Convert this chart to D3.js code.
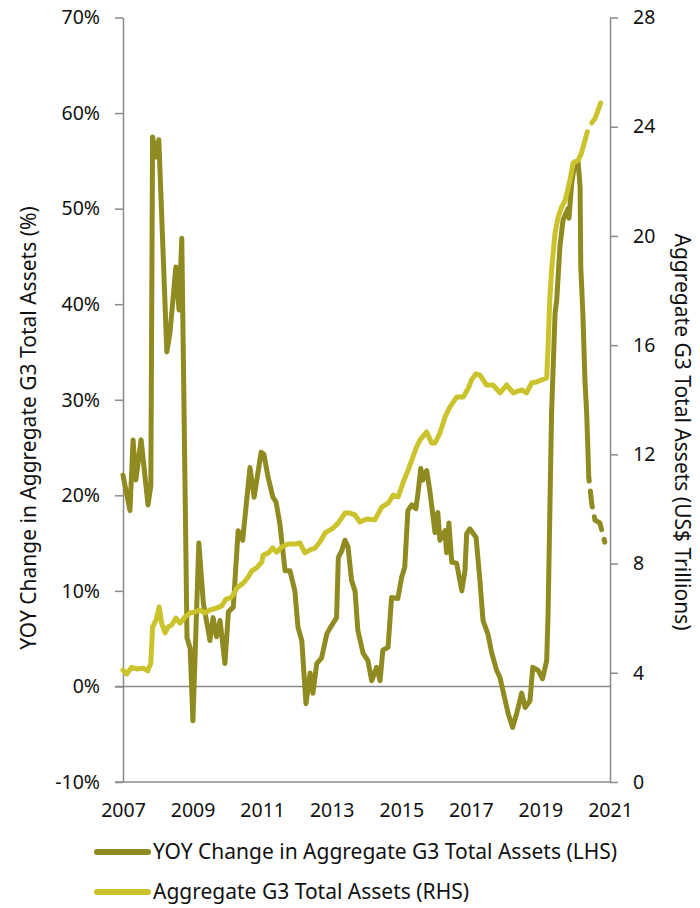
<!DOCTYPE html>
<html>
<head>
<meta charset="utf-8">
<script src="https://cdn.jsdelivr.net/npm/d3@7"></script>
<style>
body { margin: 0; background: #fff; }
text { font-family: "Noto Sans", Lato, sans-serif; fill: #111; }
</style>
</head>
<body>
<script>

var width = 700,
	height = 908;

// x in decimal years, YOY change in %
var yoyYears = [2007.00, 2007.20, 2007.29, 2007.37, 2007.52, 2007.72, 2007.80, 2007.85, 2007.95, 2008.03,
	2008.26, 2008.35, 2008.52, 2008.61, 2008.69, 2008.84, 2008.93, 2009.01, 2009.18, 2009.31,
	2009.50, 2009.59, 2009.69, 2009.79, 2009.93, 2010.03, 2010.17, 2010.31, 2010.44, 2010.65,
	2010.77, 2010.97, 2011.05, 2011.17, 2011.31, 2011.40, 2011.51, 2011.66, 2011.80, 2011.94,
	2012.03, 2012.14, 2012.26, 2012.38, 2012.46, 2012.57, 2012.71, 2012.86, 2012.95, 2013.14,
	2013.19, 2013.29, 2013.38, 2013.47, 2013.57, 2013.67, 2013.75, 2013.90, 2014.04, 2014.15,
	2014.29, 2014.39, 2014.47, 2014.62, 2014.72, 2014.90, 2015.01, 2015.10, 2015.19, 2015.30,
	2015.42, 2015.48, 2015.56, 2015.62, 2015.73, 2015.82, 2015.97, 2016.05, 2016.11, 2016.26,
	2016.30, 2016.37, 2016.45, 2016.59, 2016.74, 2016.83, 2016.88, 2016.97, 2017.15, 2017.26,
	2017.35, 2017.49, 2017.60, 2017.74, 2017.84, 2017.92, 2018.07, 2018.20, 2018.32, 2018.46,
	2018.56, 2018.70, 2018.78, 2018.93, 2019.06, 2019.18, 2019.22, 2019.27, 2019.32, 2019.42,
	2019.47, 2019.56, 2019.65, 2019.79, 2019.82, 2019.90, 2019.99, 2020.08, 2020.14, 2020.16,
	2020.22, 2020.28, 2020.33, 2020.39];
var yoyValues = [22.1, 18.4, 25.8, 21.6, 25.8, 19.0, 21.0, 57.5, 55.4, 57.2,
	35.0, 37.0, 43.9, 39.4, 46.9, 5.1, 4.0, -3.6, 15.0, 8.7,
	4.8, 7.2, 5.2, 6.9, 2.4, 7.8, 8.3, 16.3, 15.3, 22.9,
	19.8, 24.5, 24.3, 21.9, 19.8, 19.3, 17.0, 12.1, 12.1, 10.0,
	6.2, 4.8, -1.8, 1.4, -0.7, 2.4, 3.0, 5.5, 6.1, 7.2,
	13.5, 14.2, 15.3, 14.6, 11.1, 10.0, 5.9, 3.5, 2.7, 0.6,
	2.0, 0.6, 3.8, 4.1, 9.3, 9.2, 11.4, 12.5, 18.4, 19.0,
	18.6, 20.2, 22.8, 21.6, 22.6, 20.5, 16.1, 18.2, 15.3, 16.3,
	14.0, 17.1, 13.0, 12.9, 10.0, 12.1, 16.0, 16.5, 15.6, 11.1,
	6.9, 5.5, 3.5, 1.7, 0.9, -0.4, -2.8, -4.3, -2.8, -0.7,
	-2.2, -1.5, 2.0, 1.7, 0.8, 2.7, 7.6, 18.1, 28.6, 39.0,
	40.5, 46.0, 48.8, 50.0, 49.0, 52.7, 54.8, 55.0, 52.3, 43.9,
	39.0, 32.0, 28.6, 21.9];
// projected part (dashed)
var yoyProjYears = [2020.39, 2020.48, 2020.57, 2020.71, 2020.85];
var yoyProjValues = [21.9, 19.0, 17.4, 17.1, 15.1];

// aggregate total assets, US$ trillions
var assetYears = [2007.00, 2007.11, 2007.25, 2007.39, 2007.58, 2007.71, 2007.80, 2007.85, 2007.95, 2008.04,
	2008.11, 2008.21, 2008.30, 2008.40, 2008.52, 2008.64, 2008.78, 2008.93, 2009.07, 2009.21,
	2009.36, 2009.50, 2009.69, 2009.84, 2009.96, 2010.08, 2010.17, 2010.27, 2010.46, 2010.60,
	2010.70, 2010.84, 2010.99, 2011.03, 2011.18, 2011.30, 2011.42, 2011.56, 2011.75, 2011.94,
	2012.09, 2012.23, 2012.38, 2012.52, 2012.66, 2012.81, 2013.04, 2013.19, 2013.38, 2013.52,
	2013.67, 2013.81, 2014.00, 2014.24, 2014.44, 2014.63, 2014.77, 2014.91, 2015.06, 2015.20,
	2015.30, 2015.44, 2015.54, 2015.73, 2015.87, 2015.97, 2016.11, 2016.26, 2016.40, 2016.59,
	2016.78, 2016.93, 2017.02, 2017.15, 2017.26, 2017.45, 2017.64, 2017.84, 2018.03, 2018.22,
	2018.46, 2018.60, 2018.75, 2018.89, 2019.04, 2019.18, 2019.22, 2019.27, 2019.32, 2019.42,
	2019.51, 2019.61, 2019.71, 2019.85, 2019.94, 2020.09, 2020.18];
var assetValues = [4.10, 3.96, 4.20, 4.14, 4.17, 4.07, 4.35, 5.68, 5.93, 6.41,
	5.82, 5.46, 5.68, 5.75, 6.00, 5.82, 6.04, 6.19, 6.23, 6.30,
	6.19, 6.30, 6.37, 6.45, 6.70, 6.74, 6.85, 7.10, 7.29, 7.51,
	7.73, 7.84, 8.06, 8.31, 8.39, 8.57, 8.42, 8.61, 8.72, 8.72,
	8.75, 8.39, 8.50, 8.57, 8.79, 9.12, 9.30, 9.49, 9.85, 9.85,
	9.78, 9.52, 9.63, 9.60, 10.07, 10.22, 10.51, 10.44, 10.99, 11.43,
	11.79, 12.27, 12.53, 12.82, 12.42, 12.42, 12.78, 13.37, 13.74, 14.10,
	14.10, 14.43, 14.73, 14.95, 14.90, 14.54, 14.54, 14.25, 14.54, 14.25,
	14.36, 14.25, 14.62, 14.65, 14.73, 14.80, 15.93, 17.70, 18.75, 20.10,
	20.70, 21.06, 21.30, 22.05, 22.67, 22.78, 23.04];
var assetProjYears = [2020.18, 2020.39, 2020.57, 2020.77];
var assetProjValues = [23.04, 24.0, 24.3, 25.0];

var leftTicks = [-10, 0, 10, 20, 30, 40, 50, 60, 70];
var rightTicks = [0, 4, 8, 12, 16, 20, 24, 28];
var yearTicks = [2007, 2009, 2011, 2013, 2015, 2017, 2019, 2021];

var seriesNames = ['YOY Change in Aggregate G3 Total Assets (LHS)', 'Aggregate G3 Total Assets (RHS)'];
var seriesColors = ['#908b20', '#cbc32c'];

var plotLeft = 123, plotRight = 610, plotTop = 17.5, plotBottom = 782;

var x = d3.scaleLinear().domain([2007, 2021]).range([plotLeft, plotRight]);
var yL = d3.scaleLinear().domain([-10, 70]).range([plotBottom, plotTop]);
var yR = d3.scaleLinear().domain([0, 28]).range([plotBottom, plotTop]);

var svg = d3.select('body').append('svg')
	.attr('width', width)
	.attr('height', height);

var axisColor = '#8a8a8a';

// zero line
svg.append('line')
	.attr('x1', plotLeft - 8).attr('x2', plotRight)
	.attr('y1', yL(0)).attr('y2', yL(0))
	.attr('stroke', axisColor).attr('stroke-width', 1.5);

// left axis
var gL = svg.append('g')
	.attr('transform', 'translate(' + plotLeft + ',0)')
	.call(d3.axisLeft(yL).tickValues(leftTicks).tickSize(8).tickSizeOuter(0).tickPadding(15)
		.tickFormat(function(d){ return d + '%'; }));

// right axis
var gR = svg.append('g')
	.attr('transform', 'translate(' + plotRight + ',0)')
	.call(d3.axisRight(yR).tickValues(rightTicks).tickSize(8).tickSizeOuter(0).tickPadding(15));

// bottom axis (line + year labels only)
var gB = svg.append('g')
	.attr('transform', 'translate(0,' + plotBottom + ')')
	.call(d3.axisBottom(x).tickValues(yearTicks).tickSize(0).tickSizeOuter(0).tickPadding(21)
		.tickFormat(d3.format('d')));

gB.select('.domain').attr('d', 'M' + (plotLeft - 8) + ',0H' + plotRight);

[gL, gR, gB].forEach(function(g){
	g.selectAll('path, line').attr('stroke', axisColor).attr('stroke-width', 1.5);
	g.selectAll('text')
		.style('font-family', '"Noto Sans", Lato, sans-serif')
		.style('font-size', '19.5px')
		.attr('fill', '#111');
});

function lineFor(yScale){
	return d3.line()
		.x(function(d){ return x(d[0]); })
		.y(function(d){ return yScale(d[1]); });
}

function pairs(xs, vs){
	return xs.map(function(d, i){ return [d, vs[i]]; });
}

var lines = svg.append('g')
	.attr('fill', 'none')
	.attr('stroke-width', 5)
	.attr('stroke-linejoin', 'round')
	.attr('stroke-linecap', 'round');

lines.append('path')
	.attr('d', lineFor(yL)(pairs(yoyYears, yoyValues)))
	.attr('stroke', seriesColors[0]);

lines.append('path')
	.attr('d', lineFor(yL)(pairs(yoyProjYears, yoyProjValues)))
	.attr('stroke', seriesColors[0])
	.attr('stroke-dasharray', '16,10')
	.attr('stroke-dashoffset', -14);

lines.append('path')
	.attr('d', lineFor(yR)(pairs(assetYears, assetValues)))
	.attr('stroke', seriesColors[1]);

lines.append('path')
	.attr('d', lineFor(yR)(pairs(assetProjYears, assetProjValues)))
	.attr('stroke', seriesColors[1])
	.attr('stroke-dasharray', '22,10');

// axis titles
svg.append('text')
	.attr('transform', 'translate(36,428) rotate(-90)')
	.attr('text-anchor', 'middle')
	.style('font-size', '21px')
	.text('YOY Change in Aggregate G3 Total Assets (%)');

svg.append('text')
	.attr('transform', 'translate(675,432) rotate(90)')
	.attr('text-anchor', 'middle')
	.style('font-size', '21px')
	.text('Aggregate G3 Total Assets (US$ Trillions)');

// legend
var legend = svg.append('g');
seriesNames.forEach(function(name, i){
	var ly = 852 + i * 40;
	legend.append('line')
		.attr('x1', 97).attr('x2', 148)
		.attr('y1', ly).attr('y2', ly)
		.attr('stroke', seriesColors[i])
		.attr('stroke-width', 6)
		.attr('stroke-linecap', 'round');
	legend.append('text')
		.attr('x', 153).attr('y', ly + 7)
		.style('font-size', '21px')
		.text(name);
});

</script>
</body>
</html>
